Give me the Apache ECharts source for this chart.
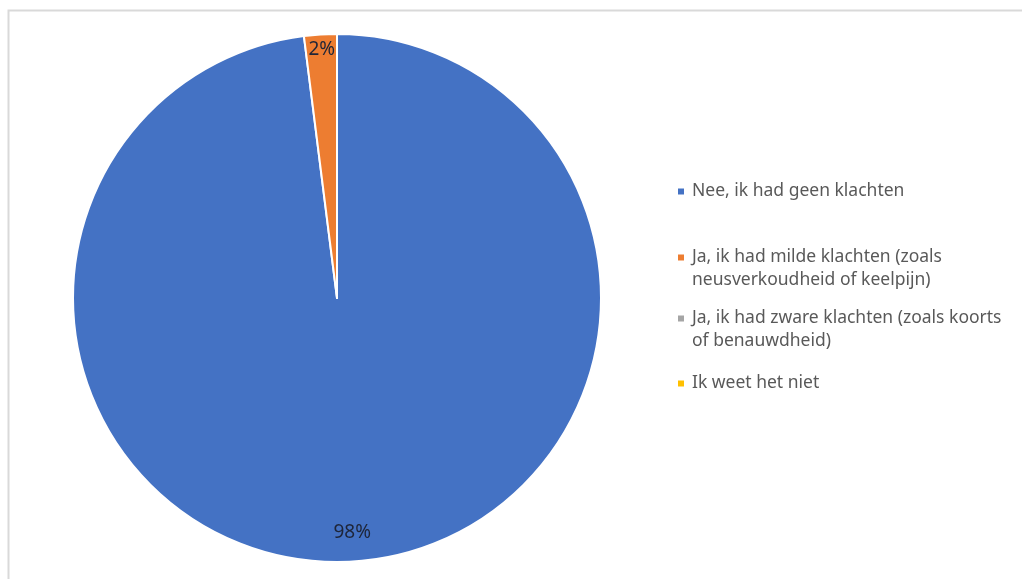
<!DOCTYPE html>
<html>
<head>
<meta charset="utf-8">
<script src="https://cdn.jsdelivr.net/npm/echarts@6/dist/echarts.min.js"></script>
<style>html,body{margin:0;padding:0;background:#fff}#c{width:1022px;height:579px}</style>
</head>
<body>
<div id="c"></div>
<script>
const categories = [
  'Nee, ik had geen klachten',
  'Ja, ik had milde klachten (zoals\nneusverkoudheid of keelpijn)',
  'Ja, ik had zware klachten (zoals koorts\nof benauwdheid)',
  'Ik weet het niet'
];
const values = [98, 2, 0, 0];
const colors = ['#4472C4', '#ED7D31', '#A5A5A5', '#FFC000'];

const chart = echarts.init(document.getElementById('c'), null, {renderer: 'canvas'});
const data = categories.map((n, i) => ({name: n, value: values[i], itemStyle: {color: colors[i]}}));
const center = [337, 298];
const R = 264;
const legendTops = [180, 223, 284, 372];
const legends = categories.map((n, i) => {
  const multi = n.indexOf('\n') >= 0;
  return {
    data: [n], orient: 'vertical', left: 678, top: legendTops[i], padding: 0,
    icon: 'rect', itemWidth: 6, itemHeight: 6, itemGap: 0, itemStyle: {borderWidth: 0},
    selectedMode: false,
    formatter: name => (multi ? '\n' : '') + name,
    textStyle: {color: '#595959', fontSize: 17.5, fontFamily: 'Noto Sans', lineHeight: 23, padding: [0, 0, 0, 3]}
  };
});
chart.setOption({
  animation: false,
  backgroundColor: '#fff',
  graphic: [{type: 'rect', shape: {x: 8.5, y: 10.5, width: 1100, height: 700},
    style: {fill: 'none', stroke: '#d9d9d9', lineWidth: 2}, silent: true}],
  legend: legends,
  series: [{
    type: 'pie', center: center, radius: [0, R], startAngle: 90, clockwise: true,
    data: data, label: {show: false}, labelLine: {show: false},
    itemStyle: {borderColor: '#fff', borderWidth: 2}, silent: true
  }, {
    type: 'pie', center: center, radius: [R - 50, R], startAngle: 90, clockwise: true,
    data: data.map(d => ({name: d.name, value: d.value})), silent: true,
    itemStyle: {color: 'rgba(0,0,0,0)'}, legendHoverLink: false,
    label: {show: true, position: 'inside', formatter: p => p.value > 0 ? Math.round(p.percent) + '%' : '',
      color: '#1e2538', fontSize: 19, fontFamily: 'Noto Sans', offset: [0, -7]},
    labelLine: {show: false}
  }]
});
</script>
</body>
</html>
